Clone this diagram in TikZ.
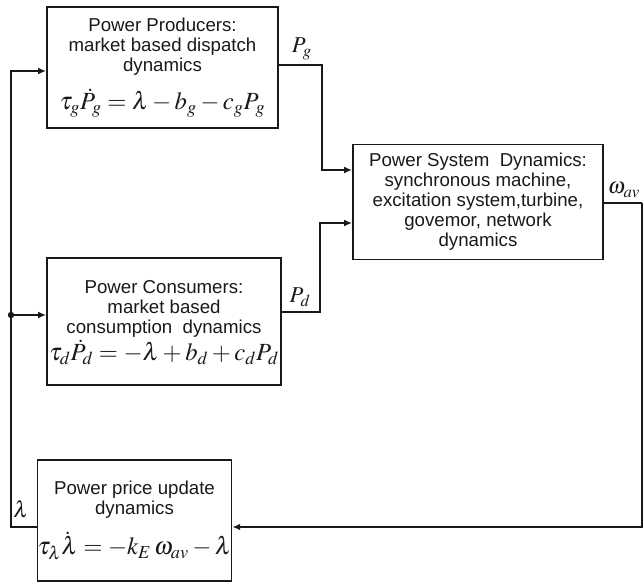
\documentclass[tikz,border=0pt]{standalone}
\usepackage{mathptmx}
\usepackage[no-math]{fontspec}
\setmainfont{Liberation Sans}
\usetikzlibrary{arrows.meta, positioning}
\definecolor{ink}{RGB}{25,25,25}
\newcommand{\eqsize}{\fontsize{18.5}{22}\selectfont}
\newcommand{\labsize}{\fontsize{17}{20}\selectfont}

\begin{document}
\begin{tikzpicture}[x=0.75pt, y=-0.75pt,
    every node/.style={font=\fontsize{14}{15}\selectfont, text=ink},
    block/.style={draw=ink, line width=1.2pt, inner sep=0pt, align=center},
    wire/.style={draw=ink, line width=1.2pt},
    feed/.style={wire, -{Latex[length=6pt, width=5pt]}}]
    \useasboundingbox (0,0) rectangle (644,582);
    % blocks
    \node[block, minimum width=231*0.75pt, minimum height=121*0.75pt] (prod) at (162.5,67.5)
        {Power Producers:\\market based dispatch\\dynamics\\[9pt]{\eqsize$\tau_g\dot{P}_g=\lambda-b_g-c_gP_g$}};
    \node[block, minimum width=250*0.75pt, minimum height=115*0.75pt] (sys) at (478,202)
        {Power System\ \ Dynamics:\\synchronous machine,\\excitation system,turbine,\\govemor, network\\dynamics};
    \node[block, minimum width=234*0.75pt, minimum height=127*0.75pt] (cons) at (164,321.5)
        {\\[-3pt]Power Consumers:\\market based\\consumption\ \ dynamics\\[1pt]{\eqsize$\tau_d\dot{P}_d=-\lambda+b_d+c_dP_d$}};
    \node[block, minimum width=189*0.75pt, minimum height=121*0.75pt] (price) at (134.5,520.5)
        {Power price update\\dynamics\\[9pt]{\eqsize$\tau_\lambda\dot{\lambda}=-k_E\,\omega_{av}-\lambda$}};
    % signal labels
    \node[font=\labsize] (pglab) at (302,49) {$P_g$};
    \node[font=\labsize] (pdlab) at (300,297) {$P_d$};
    \node[font=\labsize] (wlab) at (624,190) {$\omega_{av}$};
    \node[font=\labsize] (lamlab) at (21,509) {$\lambda$};
    % corners
    \coordinate (pgc) at (322,65);
    \coordinate (pdc) at (320,312);
    \coordinate (wc) at (642,203);
    \coordinate (lam) at (11,527);
    \coordinate (jn) at (11,315);
    % connectors
    \draw[feed] (prod.east |- pgc) -- (pgc) |- (sys.west |- 0,170);
    \draw[feed] (cons.east |- pdc) -- (pdc) |- (sys.west |- 0,223);
    \draw[wire] (sys.east |- wc) -- (wc);
    \draw[feed] (wc) |- (price.east |- 0,527);
    \draw[wire] (price.west |- lam) -- (lam) -- (jn);
    \draw[feed] (jn) |- (prod.west |- 0,71);
    \draw[feed] (jn) -- (cons.west |- jn);
    \fill[ink] (jn) circle (2.4pt);
\end{tikzpicture}
\end{document}
